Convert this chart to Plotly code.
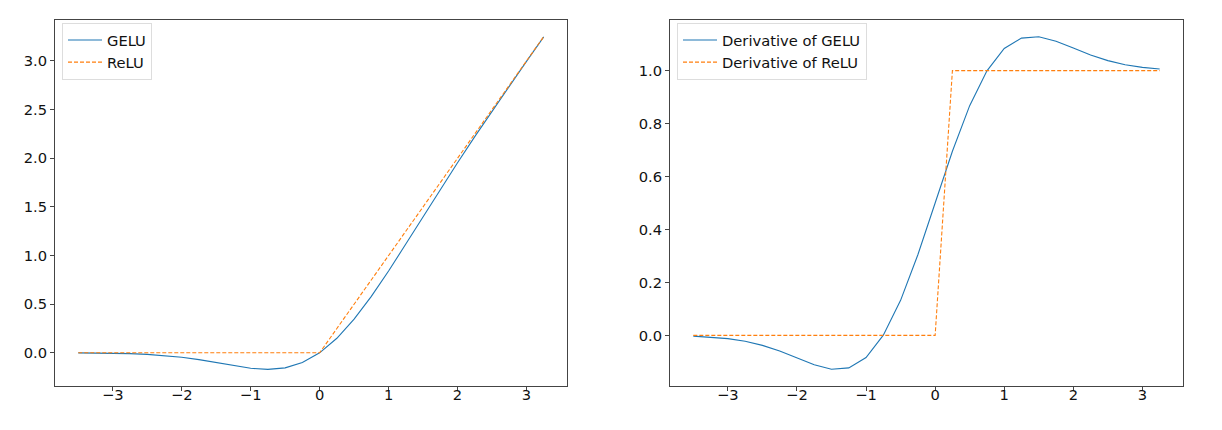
import plotly.graph_objects as go

x_vals = [-3.5, -3.25, -3.0, -2.75, -2.5, -2.25, -2.0, -1.75, -1.5, -1.25, -1.0, -0.75, -0.5, -0.25,
          0.0, 0.25, 0.5, 0.75, 1.0, 1.25, 1.5, 1.75, 2.0, 2.25, 2.5, 2.75, 3.0, 3.25]
gelu = [-0.0008, -0.0019, -0.0040, -0.0082, -0.0155, -0.0275, -0.0455, -0.0701, -0.1002, -0.1321,
        -0.1587, -0.1700, -0.1543, -0.1003, 0.0, 0.1497, 0.3457, 0.5800, 0.8413, 1.1179, 1.3998,
        1.6799, 1.9545, 2.2225, 2.4845, 2.7418, 2.9960, 3.2481]
relu = [0.0, 0.0, 0.0, 0.0, 0.0, 0.0, 0.0, 0.0, 0.0, 0.0, 0.0, 0.0, 0.0, 0.0,
        0.0, 0.25, 0.5, 0.75, 1.0, 1.25, 1.5, 1.75, 2.0, 2.25, 2.5, 2.75, 3.0, 3.25]
d_gelu = [-0.0028, -0.0060, -0.0120, -0.0220, -0.0376, -0.0592, -0.0852, -0.1109, -0.1275, -0.1227,
          -0.0833, 0.0008, 0.1325, 0.3046, 0.5, 0.6954, 0.8675, 0.9992, 1.0833, 1.1227, 1.1275,
          1.1109, 1.0852, 1.0592, 1.0376, 1.0220, 1.0120, 1.0060]
d_relu = [0, 0, 0, 0, 0, 0, 0, 0, 0, 0, 0, 0, 0, 0, 0, 1, 1, 1, 1, 1, 1, 1, 1, 1, 1, 1, 1, 1]

left_ticks_y = [0.0, 0.5, 1.0, 1.5, 2.0, 2.5, 3.0]
right_ticks_y = [0.0, 0.2, 0.4, 0.6, 0.8, 1.0]
x_ticks = [-3, -2, -1, 0, 1, 2, 3]

BLUE = "#1f77b4"
ORANGE = "#ff7f0e"
FONT = "DejaVu Sans"
FS = 14.7
OFF = 8  # page body margin
W, H = 1222 - 2 * OFF, 430 - 2 * OFF


def px_x(v):
    return (v - OFF) / W


def px_y(v):
    return 1 - (v - OFF) / H


fig = go.Figure()
fig.add_trace(go.Scatter(x=x_vals, y=gelu, mode="lines", name="GELU",
                         line=dict(color=BLUE, width=1.1), xaxis="x", yaxis="y", legend="legend"))
fig.add_trace(go.Scatter(x=x_vals, y=relu, mode="lines", name="ReLU",
                         line=dict(color=ORANGE, width=1.1, dash="4px,2px"), xaxis="x", yaxis="y", legend="legend"))
fig.add_trace(go.Scatter(x=x_vals, y=d_gelu, mode="lines", name="Derivative of GELU",
                         line=dict(color=BLUE, width=1.1), xaxis="x2", yaxis="y2", legend="legend2"))
fig.add_trace(go.Scatter(x=x_vals, y=d_relu, mode="lines", name="Derivative of ReLU",
                         line=dict(color=ORANGE, width=1.1, dash="4px,2px"), xaxis="x2", yaxis="y2", legend="legend2"))

ax_common = dict(showgrid=False, zeroline=False, showline=True, linecolor="#444", linewidth=1,
                 mirror=True, ticks="outside", ticklen=4, tickwidth=1, tickcolor="#444",
                 tickfont=dict(family=FONT, size=FS, color="#111"))
x_extra = dict(ticklabelstandoff=-9)

ydom = [px_y(386), px_y(20)]
legend_common = dict(xanchor="left", yanchor="top", bgcolor="rgba(255,255,255,0.8)",
                     bordercolor="#dddddd", borderwidth=1, font=dict(family=FONT, size=FS, color="#111"),
                     itemwidth=34, tracegroupgap=0)
fig.update_layout(
    width=W, height=H,
    margin=dict(l=0, r=0, t=0, b=0),
    plot_bgcolor="white", paper_bgcolor="white",
    font=dict(family=FONT, size=FS, color="#111"),
    xaxis=dict(domain=[px_x(55), px_x(567)], range=[-3.8375, 3.5875], tickvals=x_ticks, anchor="y",
               **ax_common, **x_extra),
    yaxis=dict(domain=ydom, range=[-0.341, 3.421], tickvals=left_ticks_y, tickformat=".1f", anchor="x", **ax_common),
    xaxis2=dict(domain=[px_x(670), px_x(1183)], range=[-3.8375, 3.5875], tickvals=x_ticks, anchor="y2",
                **ax_common, **x_extra),
    yaxis2=dict(domain=ydom, range=[-0.191, 1.191], tickvals=right_ticks_y, tickformat=".1f", anchor="x2", **ax_common),
    legend=dict(x=px_x(62), y=px_y(23), **legend_common),
    legend2=dict(x=px_x(677), y=px_y(23), **legend_common),
)

fig.write_html("out.html")
